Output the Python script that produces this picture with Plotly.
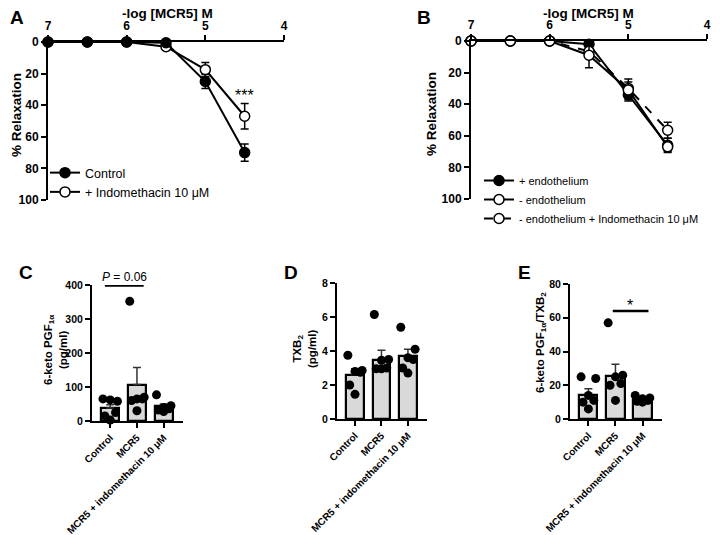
'''Concentration-response curves (A, B) and prostanoid release bars (C-E)'''
import plotly.graph_objects as go

# the page body keeps an 8 px margin, so the figure is drawn 8 px in from the window corner
OFF = 8
W, H = 720 - OFF, 535 - OFF

# ---- panels A / B : -log [MCR5] M vs % relaxation
log_conc = [7, 6.5, 6, 5.5, 5, 4.5]

a_control = [0, 0, 0, 0.5, 25, 70]
a_control_err = [0, 0, 0, 0.5, 4.5, 5.5]
a_indo = [0, 0, 0, 3, 17.5, 47]
a_indo_err = [0, 0, 0, 1, 4.5, 8]

b_endo = [0, 0, 0, 2, 34, 66]
b_endo_err = [0, 0, 0, 1.5, 3, 4.5]
b_no_endo = [0, 0, 0, 9, 31, 67]
b_no_endo_err = [0, 0, 0, 8, 7, 3]
b_no_endo_indo = [0, 0, 0, 6.5, 30, 56.5]
b_no_endo_indo_err = [0, 0, 0, 3, 4, 5]

# ---- panels C / D / E : bars with individual points
groups = ['Control', 'MCR5', 'MCR5 + indomethacin 10 μM']

c_mean = [38, 107, 43]
c_sem = [10, 50, 7]
c_points = [[65, 58, 62, 25, 15, 3],
            [352, 70, 65, 65, 60, 30],
            [77, 45, 40, 36, 32, 28]]

d_mean = [2.6, 3.5, 3.7]
d_sem = [0.35, 0.55, 0.4]
d_points = [[3.75, 2.85, 2.8, 2.75, 2.0, 1.45],
            [6.15, 3.5, 3.45, 3.0, 2.95, 2.95],
            [5.4, 4.1, 3.6, 3.5, 3.0, 2.7]]

e_mean = [14, 25.5, 11.5]
e_sem = [4, 7, 1.5]
e_points = [[25, 24, 14, 11, 10, 6],
            [57, 26, 25, 21, 20, 11],
            [14, 12.5, 12, 11, 10.5, 10]]

JITTER = [-0.27, 0.27, 0.0, 0.2, -0.2, 0.0]

FONT = 'Liberation Sans, Arial, sans-serif'


def px_x(a, b):
    return [(a - OFF) / W, (b - OFF) / W]


def px_y(top, bottom):
    return [1 - (bottom - OFF) / H, 1 - (top - OFF) / H]


def at_x(a):
    return (a - OFF) / W


def at_y(b):
    return 1 - (b - OFF) / H


fig = go.Figure()


def curve(name, y, err, xa, ya, fill, dash='solid', legend='legend', rank=1):
    fig.add_trace(go.Scatter(
        x=log_conc, y=y, name=name, mode='lines+markers',
        xaxis=xa, yaxis=ya, legend=legend, legendrank=rank,
        line=dict(color='black', width=2, dash=dash),
        marker=dict(size=10, color=fill, line=dict(color='black', width=1.5)),
        error_y=dict(type='data', array=err, color='black', thickness=1.5, width=4),
        cliponaxis=False))


# A: indomethacin drawn first so control sits on top
curve('+ Indomethacin 10 μM', a_indo, a_indo_err, 'x', 'y', 'white', rank=2)
curve('Control', a_control, a_control_err, 'x', 'y', 'black', rank=1)

# B
curve('+ endothelium', b_endo, b_endo_err, 'x2', 'y2', 'black', legend='legend2', rank=1)
curve('- endothelium + Indomethacin 10 μM', b_no_endo_indo, b_no_endo_indo_err,
      'x2', 'y2', 'white', dash='dash', legend='legend2', rank=3)
curve('- endothelium', b_no_endo, b_no_endo_err, 'x2', 'y2', 'white', legend='legend2', rank=2)


def bars(mean, sem, points, xa, ya):
    fig.add_trace(go.Bar(
        x=[0, 1, 2], y=mean, width=0.67, xaxis=xa, yaxis=ya, showlegend=False,
        marker=dict(color='#d9d9d9', line=dict(color='black', width=2.2)),
        error_y=dict(type='data', array=sem, arrayminus=[0, 0, 0], symmetric=False,
                     color='#333333', thickness=1.5, width=4)))
    for i, vals in enumerate(points):
        fig.add_trace(go.Scatter(
            x=[i + JITTER[k] for k in range(len(vals))], y=vals, mode='markers',
            xaxis=xa, yaxis=ya, showlegend=False, cliponaxis=False,
            marker=dict(size=9, color='black')))


bars(c_mean, c_sem, c_points, 'x3', 'y3')
bars(d_mean, d_sem, d_points, 'x4', 'y4')
bars(e_mean, e_sem, e_points, 'x5', 'y5')


def bold(size):
    return dict(family=FONT, size=size, color='black', weight='bold')


axis_common = dict(showline=True, linecolor='black', linewidth=2, ticks='outside',
                   ticklen=5, tickwidth=2, tickcolor='black', showgrid=False,
                   zeroline=False, automargin=False)

curve_x = dict(range=[7, 4], side='top', tickvals=[7, 6, 5, 4],
               tickfont=bold(12), **axis_common)
curve_y = dict(range=[100, 0], tickvals=[0, 20, 40, 60, 80, 100],
               tickfont=bold(12), **axis_common)

bar_x = dict(range=[-0.68, 2.72], tickvals=[0, 1, 2], ticktext=groups,
             tickangle=-45, tickfont=bold(10), **axis_common)
bar_y = dict(tickfont=bold(10.5), **axis_common)

fig.update_layout(
    width=W, height=H, margin=dict(l=0, r=0, t=0, b=0), autosize=False,
    paper_bgcolor='white', plot_bgcolor='white', font=dict(family=FONT, color='black'),
    xaxis=dict(domain=px_x(48, 284), anchor='y', **curve_x),
    yaxis=dict(domain=px_y(42, 200), anchor='x', **curve_y),
    xaxis2=dict(domain=px_x(471, 707), anchor='y2', **curve_x),
    yaxis2=dict(domain=px_y(41, 199), anchor='x2', **curve_y),
    xaxis3=dict(domain=px_x(92, 183), anchor='y3', **bar_x),
    yaxis3=dict(domain=px_y(285, 421), anchor='x3', range=[0, 400], dtick=100, **bar_y),
    xaxis4=dict(domain=px_x(337, 427), anchor='y4', **bar_x),
    yaxis4=dict(domain=px_y(283, 419), anchor='x4', range=[0, 8], dtick=2, **bar_y),
    xaxis5=dict(domain=px_x(570, 662), anchor='y5', **bar_x),
    yaxis5=dict(domain=px_y(284, 419), anchor='x5', range=[0, 80], dtick=20, **bar_y),
    legend=dict(x=at_x(45), y=at_y(158), xanchor='left', yanchor='top',
                bgcolor='rgba(0,0,0,0)', font=dict(family=FONT, size=12.5),
                tracegroupgap=0, itemwidth=30),
    legend2=dict(x=at_x(479), y=at_y(166), xanchor='left', yanchor='top',
                 bgcolor='rgba(0,0,0,0)', font=dict(family=FONT, size=11),
                 tracegroupgap=0, itemwidth=30),
    bargap=0,
)

# axis titles
titles = [
    ('-log [MCR5] M', 167, 14, 0, 13.5),
    ('-log [MCR5] M', 588, 14, 0, 13.5),
    ('% Relaxation', 17, 115, -90, 13.5),
    ('% Relaxation', 431, 114, -90, 13.5),
    ('6-keto PGF<sub>1α</sub><br>(pg/ml)', 55, 350, -90, 11.5),
    ('TXB<sub>2</sub><br>(pg/ml)', 304, 349, -90, 11.5),
    ('6-keto PGF<sub>1α</sub>/TXB<sub>2</sub>', 541, 343, -90, 11.5),
]
for text, tx, ty, ang, size in titles:
    fig.add_annotation(xref='paper', yref='paper', x=at_x(tx), y=at_y(ty),
                       xanchor='center', yanchor='middle', showarrow=False,
                       text=text, textangle=ang, font=bold(size))

# significance markers
fig.add_shape(type='line', xref='x3', yref='y3', x0=-0.2, x1=1.25, y0=398, y1=398,
              line=dict(color='black', width=2))
fig.add_annotation(xref='x3', yref='y3', x=0.55, y=398, yanchor='bottom', showarrow=False,
                   text='<i>P</i> = 0.06', font=dict(family=FONT, size=12))
fig.add_shape(type='line', xref='x5', yref='y5', x0=0.9, x1=2.22, y0=64, y1=64,
              line=dict(color='black', width=2.5))
fig.add_annotation(xref='x5', yref='y5', x=1.55, y=67, showarrow=False,
                   text='*', font=dict(family=FONT, size=16))
fig.add_annotation(xref='x', yref='y', x=4.5, y=34, showarrow=False,
                   text='***', font=dict(family=FONT, size=16))

# panel letters
for letter, lx, ly in [('A', 8, 18), ('B', 415, 18), ('C', 17, 272),
                       ('D', 282, 272), ('E', 516, 272)]:
    fig.add_annotation(xref='paper', yref='paper', x=at_x(lx), y=at_y(ly),
                       xanchor='left', yanchor='middle', showarrow=False, text=letter,
                       font=bold(19))

fig.write_html('out.html')
